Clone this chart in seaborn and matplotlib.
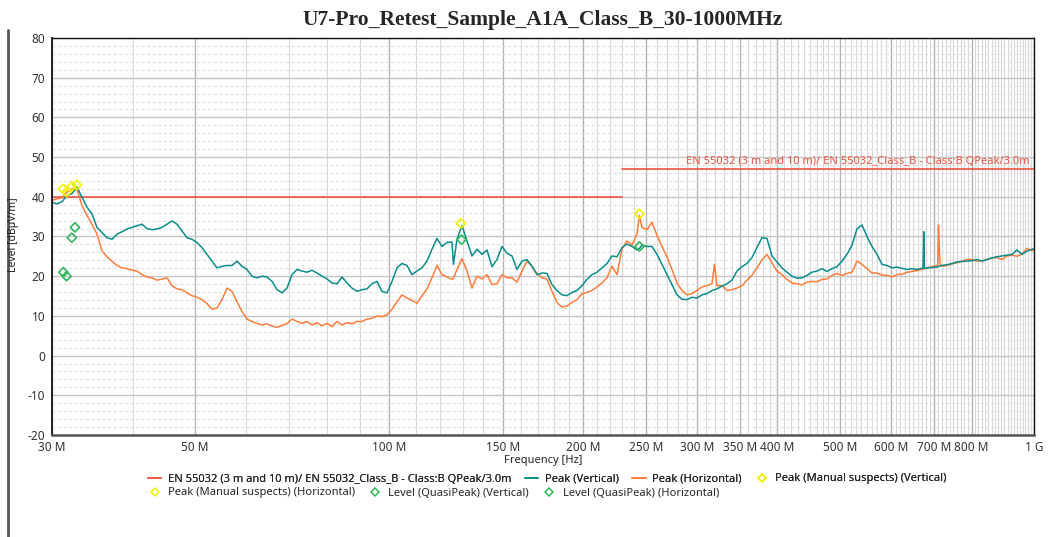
import numpy as np
import pandas as pd
import matplotlib
matplotlib.use("Agg")
import matplotlib.pyplot as plt
import seaborn as sns
from matplotlib.lines import Line2D
from matplotlib.ticker import FixedLocator, NullFormatter

# ---------------- data ----------------
FREQ_MHZ = [
    30.00, 30.54, 31.09, 31.65, 32.22, 32.80, 33.39, 33.99, 34.60, 35.23,
    35.86, 36.51, 37.17, 37.84, 38.52, 39.21, 39.92, 40.64, 41.37, 42.11,
    42.87, 43.65, 44.44, 45.24, 46.05, 46.88, 47.72, 48.58, 49.45, 50.34,
    51.25, 52.18, 53.12, 54.08, 55.05, 56.04, 57.05, 58.08, 59.13, 60.19,
    61.27, 62.38, 63.50, 64.65, 65.81, 67.00, 68.21, 69.44, 70.69, 71.96,
    73.26, 74.58, 75.92, 77.29, 78.68, 80.10, 81.54, 83.01, 84.50, 86.02,
    87.57, 89.15, 90.76, 92.39, 94.06, 95.75, 97.47, 99.23, 101.02, 102.84,
    104.69, 106.57, 108.49, 110.45, 112.44, 114.46, 116.53, 118.63, 120.76, 122.94,
    125.15, 127.41, 129.70, 132.04, 134.42, 136.84, 139.30, 141.81, 144.37, 146.97,
    149.61, 152.31, 155.05, 157.85, 160.69, 163.58, 166.53, 169.53, 172.58, 175.69,
    178.85, 182.08, 185.36, 188.69, 192.09, 195.55, 199.08, 202.66, 206.31, 210.03,
    213.81, 217.66, 221.58, 225.57, 229.64, 233.77, 237.98, 242.27, 246.63, 251.07,
    255.60, 260.20, 264.89, 269.66, 274.52, 279.46, 284.50, 289.62, 294.84, 300.15,
    305.56, 311.06, 316.67, 322.37, 328.18, 334.09, 340.11, 346.24, 352.48, 358.83,
    365.29, 371.87, 378.57, 385.39, 392.33, 399.40, 406.60, 413.92, 421.38, 428.97,
    436.70, 444.57, 452.58, 460.73, 469.03, 477.48, 486.08, 494.84, 503.75, 512.83,
    522.07, 531.47, 541.05, 550.79, 560.72, 570.82, 581.10, 591.56, 602.22, 613.07,
    624.12, 635.36, 646.81, 658.46, 670.32, 682.40, 694.69, 707.21, 719.95, 732.92,
    746.12, 759.56, 773.25, 787.18, 801.36, 815.80, 830.49, 845.45, 860.68, 876.19,
    891.97, 908.04, 924.40, 941.05, 958.00, 975.26, 993.00, 1000.0,
]

PEAK_VERT = [
    38.6, 38.2, 38.8, 40.3, 40.8, 42.5, 39.9, 37.4, 35.7, 32.3,
    31.0, 29.7, 29.3, 30.6, 31.2, 31.9, 32.3, 32.7, 33.1, 32.0,
    31.7, 31.9, 32.3, 33.1, 33.9, 33.1, 31.4, 29.7, 29.3, 28.5,
    27.2, 25.5, 23.8, 22.1, 22.5, 22.7, 22.7, 23.8, 22.5, 21.7,
    20.0, 19.6, 20.0, 19.8, 18.7, 16.6, 15.8, 17.0, 20.4, 21.7,
    21.3, 21.0, 21.5, 20.8, 20.0, 19.3, 18.3, 18.1, 19.8, 18.3,
    17.0, 16.2, 16.6, 16.8, 18.1, 18.7, 16.2, 15.8, 18.7, 22.1,
    23.2, 22.7, 20.4, 21.3, 22.1, 23.8, 26.8, 29.5, 27.5, 28.5,
    28.6, 29.3, 32.7, 28.9, 25.1, 26.8, 25.5, 26.6, 22.4, 24.2,
    27.5, 25.8, 25.1, 21.7, 23.8, 24.2, 22.5, 20.4, 20.8, 20.7,
    17.9, 16.4, 15.3, 15.1, 15.9, 16.4, 17.6, 19.2, 20.4, 21.0,
    22.1, 23.2, 25.1, 24.9, 27.2, 28.1, 27.5, 26.6, 27.8, 27.5,
    27.5, 25.5, 23.0, 20.4, 17.9, 15.3, 14.2, 14.1, 14.7, 14.5,
    15.3, 15.6, 16.4, 16.8, 17.5, 18.1, 19.0, 21.3, 22.4, 23.2,
    24.7, 27.2, 29.7, 29.5, 25.1, 23.6, 22.1, 21.0, 20.0, 19.5,
    19.6, 20.2, 21.0, 21.3, 21.9, 21.2, 21.9, 22.4, 23.8, 25.5,
    27.8, 31.9, 32.9, 30.0, 27.5, 25.5, 23.0, 22.7, 22.1, 22.3,
    22.0, 21.7, 21.9, 21.7, 22.0, 22.0, 22.2, 22.3, 22.7, 22.9,
    23.2, 23.6, 23.7, 23.8, 23.9, 24.2, 23.8, 24.2, 24.6, 24.9,
    25.1, 25.3, 25.5, 26.6, 25.5, 26.3, 26.8, 26.9,
]

PEAK_HORIZ = [
    39.1, 39.5, 39.7, 41.2, 42.0, 41.9, 37.8, 35.3, 33.1, 30.6,
    26.4, 24.9, 23.8, 22.7, 22.1, 21.9, 21.5, 21.3, 20.4, 19.8,
    19.6, 19.0, 19.3, 19.6, 17.6, 16.8, 16.6, 15.8, 15.1, 14.7,
    14.1, 13.1, 11.7, 12.0, 14.1, 17.0, 16.2, 13.6, 11.1, 9.2,
    8.6, 8.1, 7.7, 8.0, 7.5, 7.1, 7.6, 8.1, 9.2, 8.6,
    8.1, 8.6, 7.7, 8.3, 7.5, 8.1, 7.3, 8.6, 7.7, 8.3,
    8.0, 8.6, 8.6, 9.2, 9.4, 10.0, 9.8, 10.3, 11.7, 13.6,
    15.3, 14.5, 13.9, 13.2, 15.1, 16.8, 19.6, 22.7, 20.4, 19.8,
    19.2, 21.7, 24.4, 21.3, 17.0, 20.0, 19.3, 20.4, 17.9, 18.1,
    20.4, 19.6, 19.6, 18.5, 21.3, 23.8, 22.5, 20.7, 19.6, 19.3,
    16.2, 13.4, 12.2, 12.5, 13.4, 14.1, 15.6, 15.9, 16.4, 17.3,
    18.3, 19.6, 22.5, 20.4, 26.9, 28.9, 27.8, 30.6, 32.3, 31.7,
    33.6, 30.3, 27.5, 24.9, 21.7, 18.3, 16.4, 15.3, 15.6, 16.4,
    17.3, 17.6, 18.1, 17.6, 17.6, 16.4, 16.6, 17.0, 17.6, 19.0,
    20.2, 22.1, 24.1, 25.5, 23.4, 21.3, 20.4, 19.2, 18.3, 18.1,
    17.8, 18.5, 18.7, 18.6, 19.2, 19.3, 20.2, 20.7, 20.2, 20.7,
    21.0, 23.8, 23.0, 21.9, 20.8, 20.8, 20.3, 20.2, 19.8, 20.4,
    20.5, 21.0, 21.2, 21.4, 21.7, 22.1, 22.4, 22.7, 22.5, 22.7,
    23.1, 23.4, 23.8, 24.2, 24.2, 23.8, 23.9, 24.2, 24.6, 24.7,
    24.2, 25.1, 25.3, 25.0, 25.6, 27.0, 26.4, 26.8,
]

# narrow features (spikes / dips)
SPIKE_FREQ_MHZ = [125.8, 244.4, 319.5, 673.0, 674.5, 676.0, 709.0, 711.0, 713.0, 715.0]
SPIKE_VERT = [23.0, 27.0, 16.6, 22.0, 31.2, 22.1, 22.4, 22.5, 22.5, 22.6]
SPIKE_HORIZ = [19.5, 35.3, 23.0, 21.7, 21.8, 21.9, 23.0, 32.9, 27.0, 23.0]

# limit line (EN 55032 class B, 3 m)
LIMIT_LOW_FREQ = [30, 230]
LIMIT_LOW_LEVEL = [40, 40]
LIMIT_HIGH_FREQ = [230, 1000]
LIMIT_HIGH_LEVEL = [47, 47]

# markers
MANUAL_V_FREQ = [32.8, 129.2]
MANUAL_V_LEVEL = [43.0, 33.3]
MANUAL_H_FREQ = [31.2, 31.6, 32.2, 244.4]
MANUAL_H_LEVEL = [42.0, 41.2, 42.6, 35.7]
QP_V_FREQ = [32.57, 31.6, 129.5]
QP_V_LEVEL = [32.3, 20.0, 29.2]
QP_H_FREQ = [32.2, 31.24, 244.4]
QP_H_LEVEL = [29.7, 21.0, 27.5]

X_MAJOR = [30, 50, 100, 150, 200, 250, 300, 350, 400, 500, 600, 700, 800, 1000]
X_LABELS = ["30 M", "50 M", "100 M", "150 M", "200 M", "250 M", "300 M", "350 M",
            "400 M", "500 M", "600 M", "700 M", "800 M", "1 G"]
Y_TICKS = [-20, -10, 0, 10, 20, 30, 40, 50, 60, 70, 80]

TITLE = "U7-Pro_Retest_Sample_A1A_Class_B_30-1000MHz"
LIMIT_LABEL = "EN 55032 (3 m and 10 m)/ EN 55032_Class_B - Class:B QPeak/3.0m"

# ---------------- style ----------------
TEAL = "#0a8c8c"
ORANGE = "#ff7c3a"
RED = "#f0533f"
YELLOW = "#f2f200"
GREEN = "#2fb85a"

sns.set_theme(style="white")
plt.rcParams['font.family'] = ['Noto Sans', 'DejaVu Sans']

W, H = 1056, 537
fig = plt.figure(figsize=(W / 100, H / 100), dpi=100)
ax = fig.add_axes([52 / W, 1 - 435 / H, 982 / W, 397 / H])

df = pd.DataFrame({
    "freq": FREQ_MHZ + SPIKE_FREQ_MHZ,
    "vert": PEAK_VERT + SPIKE_VERT,
    "horiz": PEAK_HORIZ + SPIKE_HORIZ,
}).sort_values("freq")

ax.set_xscale("log")
ax.set_xlim(30, 1000)
ax.set_ylim(-20, 80)

# grids
minor_x = [f for f in range(40, 1000, 10) if f not in X_MAJOR]
ax.xaxis.set_minor_locator(FixedLocator(minor_x))
ax.xaxis.set_minor_formatter(NullFormatter())
ax.yaxis.set_minor_locator(FixedLocator([v for v in range(-20, 81, 2) if v % 10 != 0]))
ax.grid(which="major", axis="x", color="#b4b4b4", lw=1.0)
ax.grid(which="minor", axis="x", color="#d9d9d9", lw=0.8)
ax.grid(which="major", axis="y", color="#c6c6c6", lw=1.0)
ax.grid(which="minor", axis="y", color="#e0e0e0", lw=0.8, ls=(0, (3, 2)))
ax.set_axisbelow(True)

sns.lineplot(x=LIMIT_LOW_FREQ, y=LIMIT_LOW_LEVEL, ax=ax, color=RED, lw=1.2)
sns.lineplot(x=LIMIT_HIGH_FREQ, y=LIMIT_HIGH_LEVEL, ax=ax, color=RED, lw=1.2)
sns.lineplot(data=df, x="freq", y="horiz", ax=ax, color=ORANGE, lw=1.1, estimator=None)
sns.lineplot(data=df, x="freq", y="vert", ax=ax, color=TEAL, lw=1.1, estimator=None)

for fx, ly, col in [(MANUAL_V_FREQ, MANUAL_V_LEVEL, YELLOW), (MANUAL_H_FREQ, MANUAL_H_LEVEL, YELLOW),
                    (QP_V_FREQ, QP_V_LEVEL, GREEN), (QP_H_FREQ, QP_H_LEVEL, GREEN)]:
    sns.scatterplot(x=fx, y=ly, ax=ax, marker="D", s=22, facecolor="none",
                    edgecolor=col, linewidth=1.2, zorder=5)

ax.text(985, 47.6, LIMIT_LABEL, color=RED, fontsize=8, ha="right", va="bottom")

ax.set_xticks(X_MAJOR)
ax.set_xticklabels(X_LABELS)
ax.set_yticks(Y_TICKS)
ax.set_yticklabels([str(v) for v in Y_TICKS])
ax.tick_params(axis="x", which="major", direction="out", length=3, width=0.8, colors="#333333",
               labelsize=8.5, pad=1)
ax.tick_params(axis="x", which="minor", direction="out", length=2, width=0.6, color="#555555")
ax.tick_params(axis="y", which="major", direction="out", length=3, width=0.8, colors="#333333",
               labelsize=8.5, pad=2)
ax.tick_params(axis="y", which="minor", direction="in", length=2.5, width=0.6, color="#333333")
ax.set_xlabel("")
ax.set_ylabel("")

for side in ["top", "left", "right"]:
    ax.spines[side].set_color("#111111")
    ax.spines[side].set_linewidth(1.0)
ax.spines["left"].set_linewidth(1.3)
ax.spines["bottom"].set_color("#555555")
ax.spines["bottom"].set_linewidth(1.8)

ax.set_title(TITLE, fontsize=15.5, fontweight="bold", family="Liberation Serif", pad=9)

fig.text(14 / W, 1 - 235 / H, "Level [dBµV/m]", rotation=90, ha="center", va="center",
         fontsize=7.5, color="#222222")
fig.text(543 / W, 1 - 461 / H, "Frequency [Hz]", ha="center", va="center",
         fontsize=8, color="#222222")

# outer frame line on left
fig.add_artist(Line2D([8 / W, 8 / W], [0, 1 - 30 / H], transform=fig.transFigure,
                      color="#555555", lw=2))

# legend rows
row1_handles = [
    Line2D([], [], color=RED, lw=1.2),
    Line2D([], [], color=TEAL, lw=1.2),
    Line2D([], [], color=ORANGE, lw=1.2),
    Line2D([], [], ls="none", marker="D", mfc="none", mec=YELLOW, ms=4, mew=1.1),
]
row1_labels = [LIMIT_LABEL, "Peak (Vertical)", "Peak (Horizontal)", "Peak (Manual suspects) (Vertical)"]
row2_handles = [
    Line2D([], [], ls="none", marker="D", mfc="none", mec=YELLOW, ms=4, mew=1.1),
    Line2D([], [], ls="none", marker="D", mfc="none", mec=GREEN, ms=4, mew=1.1),
    Line2D([], [], ls="none", marker="D", mfc="none", mec=GREEN, ms=4, mew=1.1),
]
row2_labels = ["Peak (Manual suspects) (Horizontal)", "Level (QuasiPeak) (Vertical)",
               "Level (QuasiPeak) (Horizontal)"]
common = dict(frameon=False, fontsize=8, handlelength=1.2, handletextpad=0.6,
              columnspacing=1.2, borderpad=0, borderaxespad=0, loc="center left")
leg1 = fig.legend(row1_handles, row1_labels, ncol=4, bbox_to_anchor=(148 / W, 1 - 479 / H), **common)
fig.legend(row2_handles, row2_labels, ncol=3, bbox_to_anchor=(148 / W, 1 - 493 / H), **common)
fig.add_artist(leg1)

fig.savefig("out.png", dpi=100)
